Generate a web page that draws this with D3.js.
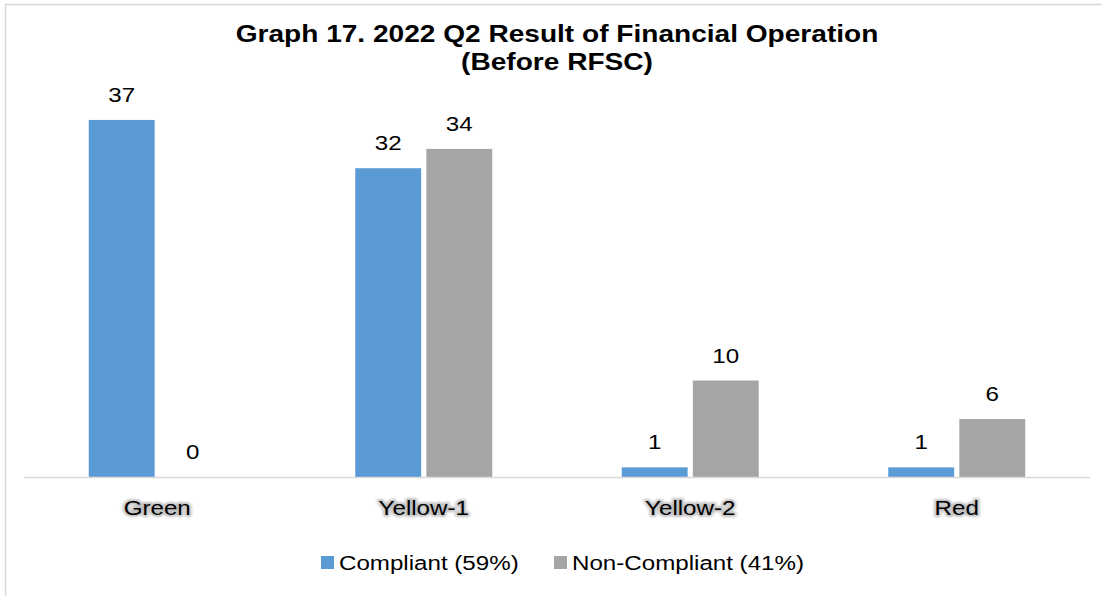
<!DOCTYPE html>
<html lang="en">
<head>
<meta charset="utf-8">
<style>
  body { margin: 0; background: white; }
  svg { font-family: 'Liberation Sans', Arial, sans-serif; display: block; }
  .title { font-weight: bold; font-size: 24px; fill: #000; }
  .value, .cat, .legend text { font-size: 21px; fill: #000; }
</style>
</head>
<body>
<svg width="1102" height="596"></svg>
<script src="https://d3js.org/d3.v7.min.js"></script>
<script>
const categories = ["Green", "Yellow-1", "Yellow-2", "Red"]
const seriesNames = ["Compliant (59%)", "Non-Compliant (41%)"]
const compliant = [37, 32, 1, 1]
const nonCompliant = [0, 34, 10, 6]
const colors = ["#5B9BD5", "#A5A5A5"]

const width = 1102
const height = 596
const margin = { top: 91, bottom: 119, left: 24, right: 12 }
const textScale = 1.15   // the source text is set wider than Arial
const titleScale = 1.17

const svg = d3.select("svg")

const defs = svg.append("defs")
defs.append("filter").attr("id", "glow")
  .attr("x", "-20%").attr("y", "-40%").attr("width", "140%").attr("height", "180%")
  .append("feGaussianBlur").attr("stdDeviation", 1.3)

// text helper: places text at (x,y) and widens it horizontally
function addText(parent, x, y, str, cls, sx, anchor) {
  return parent.append("text")
    .attr("class", cls)
    .attr("text-anchor", anchor || "middle")
    .attr("transform", "translate(" + x + "," + y + ") scale(" + sx + ",1)")
    .text(str)
}

// chart frame (cropped on right and bottom)
svg.append("path")
  .attr("d", "M5.5," + height + "V4.5H" + width)
  .attr("fill", "none")
  .attr("stroke", "#d9d9d9")
  .attr("stroke-width", 1.5)

const rows = categories.map(function(c, i) {
  return { cat: c, values: [compliant[i], nonCompliant[i]] }
})

const x0 = d3.scaleBand()
  .domain(categories)
  .range([margin.left, width - margin.right])
  .paddingInner(0.486)
  .paddingOuter(0.243)

const x1 = d3.scaleBand()
  .domain([0, 1])
  .range([0, x0.bandwidth()])
  .paddingInner(0.073)

const y = d3.scaleLinear()
  .domain([0, 40])
  .range([height - margin.bottom, margin.top])

// title
addText(svg, 557, 42, "Graph 17. 2022 Q2 Result of Financial Operation", "title", titleScale)
addText(svg, 557, 70, "(Before RFSC)", "title", titleScale)

// bars
const groups = svg.append("g").selectAll("g")
  .data(rows)
  .join("g")
  .attr("transform", function(d) { return "translate(" + x0(d.cat) + ",0)" })

groups.selectAll("rect")
  .data(function(d) { return d.values })
  .join("rect")
  .attr("x", function(d, i) { return x1(i) })
  .attr("width", x1.bandwidth())
  .attr("y", function(d) { return y(d) })
  .attr("height", function(d) { return y(0) - y(d) })
  .attr("fill", function(d, i) { return colors[i] })

groups.each(function(d) {
  const g = d3.select(this)
  d.values.forEach(function(v, i) {
    addText(g, x1(i) + x1.bandwidth() / 2, y(v) - 18, v, "value", textScale)
  })
})

// x axis
const xAxis = svg.append("g")
  .attr("transform", "translate(0," + y(0) + ")")
  .call(d3.axisBottom(x0).tickSize(0).tickPadding(0))

xAxis.select(".domain")
  .attr("stroke", "#d9d9d9")
  .attr("stroke-width", 1.5)
  .attr("d", "M" + margin.left + ",0.5H" + (width - margin.right))

// category labels with a soft grey halo, drawn by hand over the axis ticks
xAxis.selectAll(".tick text").remove()
xAxis.selectAll(".tick").each(function(d) {
  const t = d3.select(this)
  addText(t, 0, 38, d, "cat", textScale)
    .attr("stroke", "#8c8c8c")
    .attr("stroke-width", 4)
    .attr("stroke-linejoin", "round")
    .attr("opacity", 0.55)
    .attr("filter", "url(#glow)")
  addText(t, 0, 38, d, "cat", textScale)
})

// legend
const legend = svg.append("g").attr("class", "legend")
const legendX = [321, 554]
seriesNames.forEach(function(name, i) {
  const g = legend.append("g").attr("transform", "translate(" + legendX[i] + ",556)")
  g.append("rect").attr("width", 13).attr("height", 13).attr("fill", colors[i])
  addText(g, 18, 14, name, "", textScale, "start")
})
</script>
</body>
</html>
